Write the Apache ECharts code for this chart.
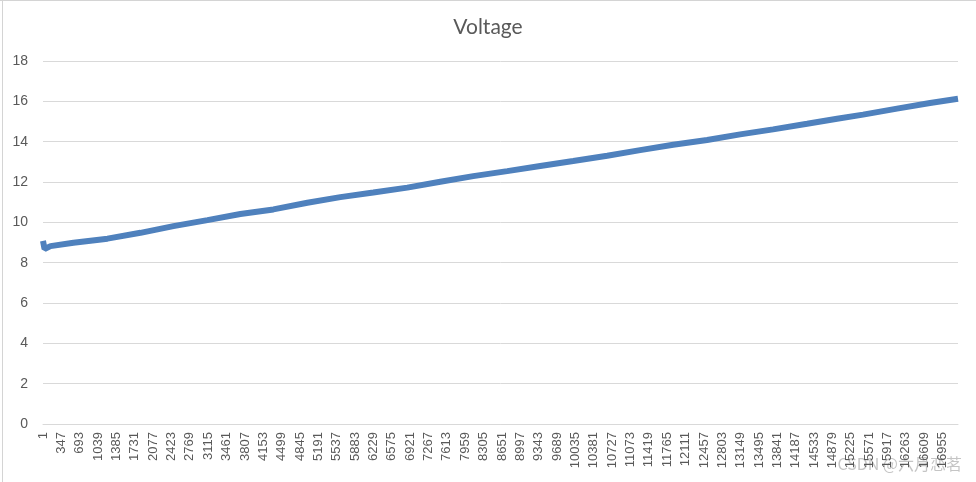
<!DOCTYPE html>
<html>
<head>
<meta charset="utf-8">
<script src="https://cdn.jsdelivr.net/npm/echarts@6/dist/echarts.min.js"></script>
<style>
html,body{margin:0;padding:0;background:#fff;}
#chart{width:976px;height:482px;}
</style>
</head>
<body>
<div id="chart"></div>
<script>
// ---- data ----
const chartTitle = 'Voltage';
const rowCount = 17245;              // number of rows on the category axis
const labelStep = 346;               // Excel shows every 346th row number
const sampleRows = [1, 30, 142, 575, 1216, 1838, 2459, 3100, 3721, 4343, 4983, 5605, 6226, 6866,
  7488, 8110, 8750, 9372, 9993, 10634, 11255, 11877, 12517, 13139, 13760, 14401, 14966,
  15456, 16096, 16718, 17245];
const voltage = [9.08, 8.68, 8.82, 8.99, 9.19, 9.48, 9.81, 10.11, 10.41, 10.64, 10.97, 11.25, 11.48, 11.72,
  12.01, 12.29, 12.54, 12.79, 13.04, 13.30, 13.58, 13.85, 14.08, 14.36, 14.61, 14.89, 15.14,
  15.34, 15.64, 15.92, 16.13];
const yMin = 0, yMax = 18, yStep = 2;

// ---- build ----
const categories = Array.from({length: rowCount}, (_, i) => String(i + 1));
const seriesData = sampleRows.map((r, i) => [r - 1, voltage[i]]);

const chart = echarts.init(document.getElementById('chart'));
const txt = '#595959';
const grid = '#d9d9d9';
chart.setOption({
  animation: false,
  backgroundColor: '#ffffff',
  title: {
    text: chartTitle, left: 'center', top: 12,
    textStyle: {fontFamily: 'Lato', fontSize: 21, fontWeight: 'normal', color: txt}
  },
  grid: {left: 43, right: 18, top: 61, bottom: 58},
  xAxis: {
    type: 'category', data: categories, boundaryGap: false,
    axisLine: {lineStyle: {color: grid, width: 1}},
    axisTick: {show: false},
    axisLabel: {interval: labelStep - 1, rotate: 90, margin: 8, color: txt,
      fontFamily: 'Liberation Sans', fontSize: 13},
    splitLine: {show: false}
  },
  yAxis: {
    type: 'value', min: yMin, max: yMax, interval: yStep,
    axisLine: {show: false}, axisTick: {show: false},
    axisLabel: {color: txt, fontFamily: 'Liberation Sans', fontSize: 14, margin: 15},
    splitLine: {lineStyle: {color: grid, width: 1}}
  },
  series: [{
    type: 'line', data: seriesData, showSymbol: false, smooth: false,
    lineStyle: {color: '#4F81BD', width: 6},
    itemStyle: {color: '#4F81BD'}
  }],
  graphic: [
    {type: 'line', shape: {x1: 2.5, y1: 0, x2: 2.5, y2: 482}, style: {stroke: '#d4d4d4', lineWidth: 1}, silent: true},
    {type: 'line', shape: {x1: 0, y1: 0.5, x2: 976, y2: 0.5}, style: {stroke: '#d4d4d4', lineWidth: 1}, silent: true},
    {type: 'text', right: 14, bottom: 10, silent: true,
      style: {text: 'CSDN @六月恋茗', fill: 'rgba(150,150,150,0.55)', font: '16px "Noto Sans CJK SC"'}}
  ]
});
</script>
</body>
</html>
